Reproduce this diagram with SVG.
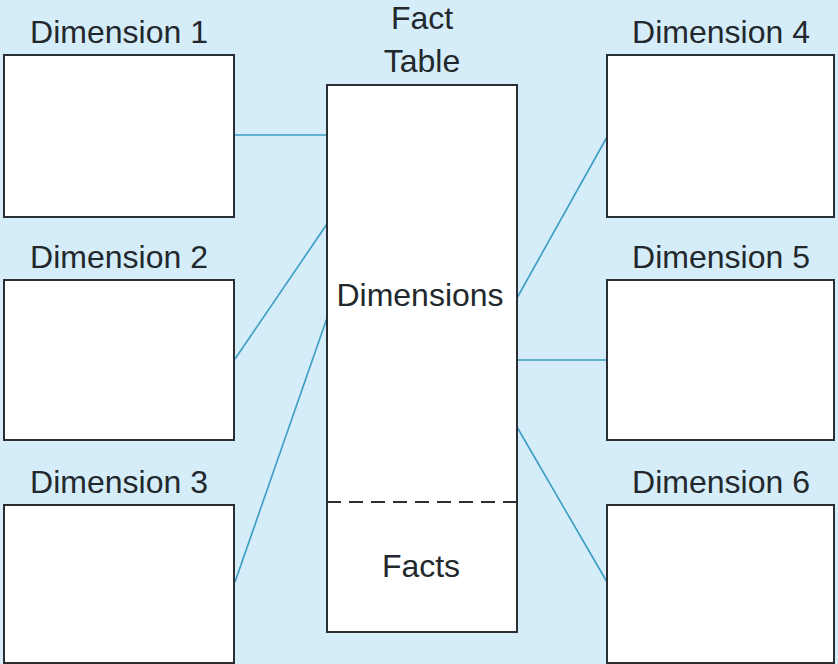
<svg xmlns="http://www.w3.org/2000/svg" width="838" height="664" viewBox="0 0 838 664">
<style>
.box{fill:#ffffff;stroke:#2b2f33;stroke-width:2}
.lbl{font-family:"Liberation Sans",Arial,sans-serif;font-size:32px;fill:#23282c;text-anchor:middle}
.con{stroke:#3b9cc4;stroke-width:1.6;fill:none}
</style>
<rect x="0" y="0" width="838" height="664" fill="#d4edf9"/>
<g id="connectors">
<line class="con" x1="234" y1="135" x2="327" y2="135"/>
<line class="con" x1="235" y1="359" x2="327" y2="224"/>
<line class="con" x1="235" y1="582" x2="327" y2="318"/>
<line class="con" x1="517" y1="298" x2="607" y2="137"/>
<line class="con" x1="517" y1="360" x2="607" y2="360"/>
<line class="con" x1="517" y1="427" x2="607" y2="582"/>
</g>
<g id="dim1">
<rect class="box" x="4" y="55" width="230" height="162"/>
<text class="lbl" x="119" y="43">Dimension 1</text>
</g>
<g id="dim2">
<rect class="box" x="4" y="280" width="230" height="160"/>
<text class="lbl" x="119" y="268">Dimension 2</text>
</g>
<g id="dim3">
<rect class="box" x="4" y="505" width="230" height="158"/>
<text class="lbl" x="119" y="493">Dimension 3</text>
</g>
<g id="fact">
<rect class="box" x="327" y="85" width="190" height="547"/>
<line x1="327" y1="502" x2="517" y2="502" stroke="#2b2f33" stroke-width="2" stroke-dasharray="14,8"/>
<text class="lbl" x="422" y="29">Fact</text>
<text class="lbl" x="422" y="72">Table</text>
<text class="lbl" x="420" y="306">Dimensions</text>
<text class="lbl" x="421" y="577">Facts</text>
</g>
<g id="dim4">
<rect class="box" x="607" y="55" width="227" height="162"/>
<text class="lbl" x="721" y="43">Dimension 4</text>
</g>
<g id="dim5">
<rect class="box" x="607" y="280" width="227" height="160"/>
<text class="lbl" x="721" y="268">Dimension 5</text>
</g>
<g id="dim6">
<rect class="box" x="607" y="505" width="227" height="158"/>
<text class="lbl" x="721" y="493">Dimension 6</text>
</g>
</svg>
